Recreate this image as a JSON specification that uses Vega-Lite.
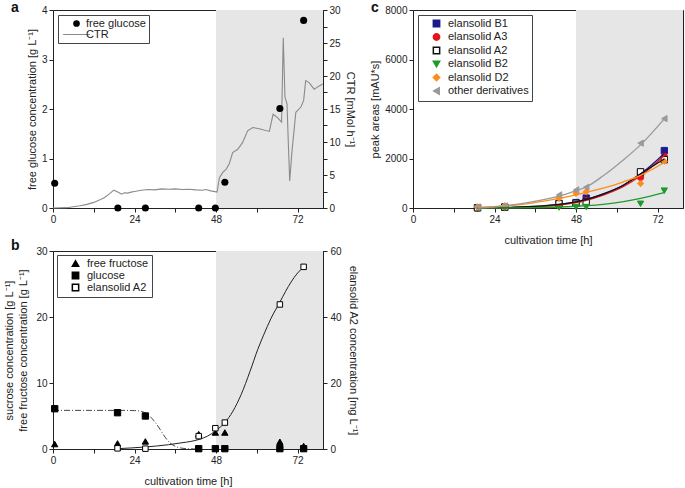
{
  "$schema": "https://vega.github.io/schema/vega-lite/v6.json",
  "padding": {"left": 3, "top": 0, "right": 0, "bottom": 0},
  "config": {
    "font": "Liberation Sans",
    "view": {"stroke": "#222", "strokeWidth": 1},
    "axis": {"grid": false, "domainColor": "#222", "domainWidth": 1, "tickColor": "#222", "tickSize": 4, "labelColor": "#222", "labelFontSize": 10, "labelPadding": 2, "titleColor": "#222", "titleFontSize": 11, "titleFontWeight": "normal", "labelFlush": false, "labelOverlap": false},
    "legend": {"orient": "top-left", "offset": 5, "strokeColor": "#444", "fillColor": "white", "padding": 3, "labelFontSize": 11, "labelColor": "#222", "rowPadding": 3, "title": null},
    "title": {"fontSize": 14, "fontWeight": "bold", "anchor": "start", "frame": "group", "color": "#111", "baseline": "alphabetic"}
  },
  "datasets": {
    "shade": [{"start": 48, "end": 79.5}],
    "ctr": [
      {"t": 0, "v": 0}, {"t": 4, "v": 0.05}, {"t": 8, "v": 0.35}, {"t": 10, "v": 0.55}, {"t": 12, "v": 0.85}, {"t": 14, "v": 1.3}, {"t": 15.2, "v": 1.6}, {"t": 16.5, "v": 2.1}, {"t": 17.9, "v": 2.7}, {"t": 18.6, "v": 2.55}, {"t": 19.5, "v": 2.3}, {"t": 20.2, "v": 2.1}, {"t": 21, "v": 2.3}, {"t": 22, "v": 2.25}, {"t": 23, "v": 2.4}, {"t": 24, "v": 2.5}, {"t": 26, "v": 2.7}, {"t": 28, "v": 2.8}, {"t": 30, "v": 2.75}, {"t": 32, "v": 2.9}, {"t": 34, "v": 2.85}, {"t": 36, "v": 2.9}, {"t": 38, "v": 2.8}, {"t": 40, "v": 2.85}, {"t": 42, "v": 2.75}, {"t": 44, "v": 2.7}, {"t": 45, "v": 2.8}, {"t": 46.5, "v": 2.6}, {"t": 48.3, "v": 2.4}, {"t": 49, "v": 4.6}, {"t": 50, "v": 5.4}, {"t": 51, "v": 5.9}, {"t": 51.9, "v": 6.7}, {"t": 52.9, "v": 8.4}, {"t": 54.4, "v": 8.9}, {"t": 55.8, "v": 9.9}, {"t": 57.3, "v": 11.7}, {"t": 58.8, "v": 12.2}, {"t": 60.7, "v": 12.0}, {"t": 63.7, "v": 11.6}, {"t": 64.8, "v": 14.2}, {"t": 66.1, "v": 13.7}, {"t": 67.3, "v": 13.0}, {"t": 67.8, "v": 25.8}, {"t": 68.3, "v": 16.8}, {"t": 68.9, "v": 15.8}, {"t": 69.3, "v": 9.7}, {"t": 69.7, "v": 4.1}, {"t": 70.3, "v": 8.2}, {"t": 71.5, "v": 14.5}, {"t": 73, "v": 15.3}, {"t": 73.8, "v": 16.3}, {"t": 74.4, "v": 19.3}, {"t": 75.4, "v": 19.0}, {"t": 76.9, "v": 18.0}, {"t": 78.4, "v": 18.5}, {"t": 79.4, "v": 18.8}
    ],
    "glc_a": [
      {"t": 0.5, "v": 0.5, "series": "free glucose"}, {"t": 19.1, "v": 0.0, "series": "free glucose"}, {"t": 27.2, "v": 0.0, "series": "free glucose"}, {"t": 42.9, "v": 0.0, "series": "free glucose"}, {"t": 47.8, "v": 0.0, "series": "free glucose"}, {"t": 50.6, "v": 0.52, "series": "free glucose"}, {"t": 66.8, "v": 2.01, "series": "free glucose"}, {"t": 73.8, "v": 3.79, "series": "free glucose"}
    ],
    "b_left": [
      {"t": 0.5, "v": 0.75, "series": "free fructose"}, {"t": 19, "v": 0.85, "series": "free fructose"}, {"t": 27.2, "v": 1.15, "series": "free fructose"}, {"t": 42.9, "v": 2.25, "series": "free fructose"}, {"t": 47.8, "v": 2.5, "series": "free fructose"}, {"t": 50.6, "v": 2.5, "series": "free fructose"}, {"t": 66.8, "v": 1.1, "series": "free fructose"}, {"t": 73.8, "v": 0.45, "series": "free fructose"},
      {"t": 0.5, "v": 6.1, "series": "glucose"}, {"t": 19, "v": 5.5, "series": "glucose"}, {"t": 27.2, "v": 5.0, "series": "glucose"}, {"t": 42.9, "v": 0.05, "series": "glucose"}, {"t": 47.8, "v": 0.05, "series": "glucose"}, {"t": 50.6, "v": 0.05, "series": "glucose"}, {"t": 66.8, "v": 0.05, "series": "glucose"}, {"t": 73.8, "v": 0.05, "series": "glucose"}
    ],
    "b_a2": [
      {"t": 19, "v": 0.2, "series": "elansolid A2"}, {"t": 27.2, "v": 0.1, "series": "elansolid A2"}, {"t": 42.9, "v": 3.9, "series": "elansolid A2"}, {"t": 47.8, "v": 6.3, "series": "elansolid A2"}, {"t": 50.6, "v": 8.0, "series": "elansolid A2"}, {"t": 66.8, "v": 43.8, "series": "elansolid A2"}, {"t": 73.8, "v": 55.2, "series": "elansolid A2"}
    ],
    "b_glcfit": [
      {"t": 0, "v": 5.85}, {"t": 12, "v": 5.85}, {"t": 20, "v": 5.85}, {"t": 24, "v": 5.82}, {"t": 26, "v": 5.7}, {"t": 28, "v": 5.2}, {"t": 30, "v": 4.1}, {"t": 31.5, "v": 3.0}, {"t": 33, "v": 1.8}, {"t": 34.5, "v": 0.9}, {"t": 36, "v": 0.4}, {"t": 38, "v": 0.12}, {"t": 40, "v": 0.03}, {"t": 43, "v": 0}
    ],
    "b_a2fit": [
      {"t": 19, "v": 0.1}, {"t": 27, "v": 0.6}, {"t": 34, "v": 1.3}, {"t": 38, "v": 1.9}, {"t": 40.6, "v": 2.3}, {"t": 43, "v": 2.9}, {"t": 45.5, "v": 3.9}, {"t": 48, "v": 5.6}, {"t": 50.5, "v": 7.9}, {"t": 53, "v": 11.5}, {"t": 55.4, "v": 16.5}, {"t": 58, "v": 23.5}, {"t": 60.3, "v": 30.2}, {"t": 62, "v": 34.5}, {"t": 64.2, "v": 39.6}, {"t": 66.8, "v": 44.5}, {"t": 68.5, "v": 47.8}, {"t": 70.1, "v": 50.6}, {"t": 72, "v": 53.3}, {"t": 74, "v": 55.3}
    ],
    "c_pts": [
      {"t": 19, "v": 10, "series": "elansolid B1"}, {"t": 27, "v": 30, "series": "elansolid B1"}, {"t": 43, "v": 180, "series": "elansolid B1"}, {"t": 48, "v": 220, "series": "elansolid B1"}, {"t": 51, "v": 400, "series": "elansolid B1"}, {"t": 67, "v": 1450, "series": "elansolid B1"}, {"t": 74, "v": 2320, "series": "elansolid B1"},
      {"t": 19, "v": 0, "series": "elansolid A3"}, {"t": 27, "v": 20, "series": "elansolid A3"}, {"t": 43, "v": 100, "series": "elansolid A3"}, {"t": 48, "v": 180, "series": "elansolid A3"}, {"t": 51, "v": 300, "series": "elansolid A3"}, {"t": 67, "v": 1240, "series": "elansolid A3"}, {"t": 74, "v": 2080, "series": "elansolid A3"},
      {"t": 19, "v": 10, "series": "elansolid A2"}, {"t": 27, "v": 40, "series": "elansolid A2"}, {"t": 43, "v": 170, "series": "elansolid A2"}, {"t": 48, "v": 190, "series": "elansolid A2"}, {"t": 51, "v": 250, "series": "elansolid A2"}, {"t": 67, "v": 1460, "series": "elansolid A2"}, {"t": 74, "v": 1950, "series": "elansolid A2"},
      {"t": 19, "v": 0, "series": "elansolid B2"}, {"t": 27, "v": 0, "series": "elansolid B2"}, {"t": 43, "v": 20, "series": "elansolid B2"}, {"t": 48, "v": 40, "series": "elansolid B2"}, {"t": 51, "v": 40, "series": "elansolid B2"}, {"t": 67, "v": 170, "series": "elansolid B2"}, {"t": 74, "v": 700, "series": "elansolid B2"},
      {"t": 19, "v": 40, "series": "elansolid D2"}, {"t": 27, "v": 90, "series": "elansolid D2"}, {"t": 43, "v": 390, "series": "elansolid D2"}, {"t": 48, "v": 590, "series": "elansolid D2"}, {"t": 51, "v": 660, "series": "elansolid D2"}, {"t": 67, "v": 990, "series": "elansolid D2"}, {"t": 74, "v": 1890, "series": "elansolid D2"},
      {"t": 19, "v": 40, "series": "other derivatives"}, {"t": 27, "v": 80, "series": "other derivatives"}, {"t": 43, "v": 530, "series": "other derivatives"}, {"t": 48, "v": 730, "series": "other derivatives"}, {"t": 51, "v": 840, "series": "other derivatives"}, {"t": 67, "v": 2620, "series": "other derivatives"}, {"t": 74, "v": 3610, "series": "other derivatives"}
    ],
    "c_fit": [
      {"t": 19, "v": 0, "series": "elansolid B1"}, {"t": 27, "v": 15, "series": "elansolid B1"}, {"t": 35, "v": 55, "series": "elansolid B1"}, {"t": 43, "v": 145, "series": "elansolid B1"}, {"t": 48, "v": 250, "series": "elansolid B1"}, {"t": 51, "v": 345, "series": "elansolid B1"}, {"t": 56, "v": 570, "series": "elansolid B1"}, {"t": 62, "v": 930, "series": "elansolid B1"}, {"t": 67, "v": 1370, "series": "elansolid B1"}, {"t": 74, "v": 2200, "series": "elansolid B1"},
      {"t": 19, "v": 0, "series": "elansolid A3"}, {"t": 27, "v": 10, "series": "elansolid A3"}, {"t": 35, "v": 45, "series": "elansolid A3"}, {"t": 43, "v": 120, "series": "elansolid A3"}, {"t": 48, "v": 220, "series": "elansolid A3"}, {"t": 51, "v": 310, "series": "elansolid A3"}, {"t": 56, "v": 520, "series": "elansolid A3"}, {"t": 62, "v": 870, "series": "elansolid A3"}, {"t": 67, "v": 1300, "series": "elansolid A3"}, {"t": 74, "v": 2120, "series": "elansolid A3"},
      {"t": 19, "v": 0, "series": "elansolid A2"}, {"t": 27, "v": 15, "series": "elansolid A2"}, {"t": 35, "v": 60, "series": "elansolid A2"}, {"t": 43, "v": 150, "series": "elansolid A2"}, {"t": 48, "v": 250, "series": "elansolid A2"}, {"t": 51, "v": 340, "series": "elansolid A2"}, {"t": 56, "v": 560, "series": "elansolid A2"}, {"t": 62, "v": 920, "series": "elansolid A2"}, {"t": 67, "v": 1380, "series": "elansolid A2"}, {"t": 74, "v": 1980, "series": "elansolid A2"},
      {"t": 19, "v": 0, "series": "elansolid B2"}, {"t": 27, "v": 5, "series": "elansolid B2"}, {"t": 35, "v": 15, "series": "elansolid B2"}, {"t": 43, "v": 40, "series": "elansolid B2"}, {"t": 48, "v": 70, "series": "elansolid B2"}, {"t": 51, "v": 95, "series": "elansolid B2"}, {"t": 56, "v": 150, "series": "elansolid B2"}, {"t": 62, "v": 260, "series": "elansolid B2"}, {"t": 67, "v": 390, "series": "elansolid B2"}, {"t": 74, "v": 620, "series": "elansolid B2"},
      {"t": 19, "v": 20, "series": "elansolid D2"}, {"t": 27, "v": 80, "series": "elansolid D2"}, {"t": 35, "v": 200, "series": "elansolid D2"}, {"t": 43, "v": 390, "series": "elansolid D2"}, {"t": 48, "v": 530, "series": "elansolid D2"}, {"t": 51, "v": 630, "series": "elansolid D2"}, {"t": 56, "v": 800, "series": "elansolid D2"}, {"t": 62, "v": 1060, "series": "elansolid D2"}, {"t": 67, "v": 1320, "series": "elansolid D2"}, {"t": 74, "v": 1840, "series": "elansolid D2"},
      {"t": 19, "v": 0, "series": "other derivatives"}, {"t": 27, "v": 90, "series": "other derivatives"}, {"t": 35, "v": 250, "series": "other derivatives"}, {"t": 43, "v": 480, "series": "other derivatives"}, {"t": 48, "v": 700, "series": "other derivatives"}, {"t": 51, "v": 850, "series": "other derivatives"}, {"t": 56, "v": 1300, "series": "other derivatives"}, {"t": 62, "v": 1950, "series": "other derivatives"}, {"t": 67, "v": 2550, "series": "other derivatives"}, {"t": 74, "v": 3600, "series": "other derivatives"}
    ]
  },
  "concat": [
    {
      "width": 270, "height": 198,
      "title": {"text": "a", "dx": -42, "offset": -10},
      "layer": [
        {"data": {"name": "shade"}, "mark": {"type": "rect", "fill": "#e6e6e6"},
         "encoding": {"x": {"field": "start", "type": "quantitative", "scale": {"domain": [0, 79.5], "nice": false, "zero": false}, "axis": {"values": [0, 12, 24, 36, 48, 60, 72], "labelExpr": "datum.value % 24 === 0 ? datum.label : ''", "title": null}}, "x2": {"field": "end"}}},
        {"data": {"name": "ctr"}, "mark": {"type": "line", "color": "#8a8a8a", "strokeWidth": 1.1},
         "encoding": {"x": {"field": "t", "type": "quantitative"}, "y": {"field": "v", "type": "quantitative", "scale": {"domain": [0, 30], "nice": false}, "axis": {"orient": "right", "values": [0, 2.5, 5, 7.5, 10, 12.5, 15, 17.5, 20, 22.5, 25, 27.5, 30], "format": "d", "labelExpr": "datum.value % 5 === 0 ? datum.label : ''", "title": "CTR [mMol h⁻¹]", "titlePadding": 4}}}},
        {"data": {"name": "glc_a"}, "mark": {"type": "point", "filled": true, "opacity": 1, "size": 50},
         "encoding": {"x": {"field": "t", "type": "quantitative"},
           "y": {"field": "v", "type": "quantitative", "scale": {"domain": [0, 4], "nice": false}, "axis": {"orient": "left", "values": [0, 0.5, 1, 1.5, 2, 2.5, 3, 3.5, 4], "format": "d", "labelExpr": "datum.value % 1 === 0 ? datum.label : ''", "title": "free glucose concentration [g L⁻¹]", "titlePadding": 4}},
           "color": {"field": "series", "type": "nominal", "scale": {"domain": ["free glucose", "CTR"], "range": ["#000000", "#8a8a8a"]}, "legend": {"symbolSize": 45, "symbolOffset": 10, "labelOffset": 4, "rowPadding": -2}},
           "shape": {"field": "series", "type": "nominal", "scale": {"domain": ["free glucose", "CTR"], "range": ["circle", "M-4,-0.15L4,-0.15L4,0.15L-4,0.15Z"]}, "legend": {"symbolSize": 45, "symbolOffset": 10, "labelOffset": 4, "rowPadding": -2}}}}
      ],
      "resolve": {"scale": {"y": "independent"}}
    },
    {
      "width": 270, "height": 198,
      "title": {"text": "c", "dx": -42, "offset": -10},
      "layer": [
        {"data": {"name": "shade"}, "mark": {"type": "rect", "fill": "#e6e6e6"},
         "encoding": {"x": {"field": "start", "type": "quantitative", "scale": {"domain": [0, 79.5], "nice": false, "zero": false}, "axis": {"values": [0, 12, 24, 36, 48, 60, 72], "labelExpr": "datum.value % 24 === 0 ? datum.label : ''", "title": "cultivation time [h]", "titlePadding": 10}}, "x2": {"field": "end"}}},
        {"data": {"name": "c_pts"}, "mark": {"type": "point", "filled": false, "opacity": 1, "size": 40, "strokeWidth": 1},
         "encoding": {"x": {"field": "t", "type": "quantitative"},
           "y": {"field": "v", "type": "quantitative", "scale": {"domain": [0, 8000], "nice": false}, "axis": {"values": [0, 500, 1000, 1500, 2000, 2500, 3000, 3500, 4000, 4500, 5000, 5500, 6000, 6500, 7000, 7500, 8000], "labelExpr": "datum.value % 1000 === 0 ? datum.label : ''", "format": "d", "title": "peak areas [mAU*s]", "titlePadding": 4}},
           "color": {"field": "series", "type": "nominal", "scale": {"domain": ["elansolid B1", "elansolid A3", "elansolid A2", "elansolid B2", "elansolid D2", "other derivatives"], "range": ["#1c1c8a", "#e5141c", "#111111", "#1f9a2a", "#ff8c1a", "#9a9a9a"]}, "legend": {"symbolSize": 40, "symbolOffset": 10, "labelOffset": 6, "rowPadding": 0.5}},
           "fill": {"field": "series", "type": "nominal", "scale": {"domain": ["elansolid B1", "elansolid A3", "elansolid A2", "elansolid B2", "elansolid D2", "other derivatives"], "range": ["#1c1c8a", "#e5141c", "#ffffff", "#1f9a2a", "#ff8c1a", "#9a9a9a"]}, "legend": {"symbolSize": 40, "symbolOffset": 10, "labelOffset": 6, "rowPadding": 0.5}},
           "shape": {"field": "series", "type": "nominal", "scale": {"domain": ["elansolid B1", "elansolid A3", "elansolid A2", "elansolid B2", "elansolid D2", "other derivatives"], "range": ["square", "circle", "square", "triangle-down", "diamond", "triangle-left"]}, "legend": {"symbolSize": 40, "symbolOffset": 10, "labelOffset": 6, "rowPadding": 0.5}}}},
        {"data": {"name": "c_fit"}, "mark": {"type": "line", "strokeWidth": 1.3, "interpolate": "monotone"},
         "encoding": {"x": {"field": "t", "type": "quantitative"}, "y": {"field": "v", "type": "quantitative"},
           "color": {"field": "series", "type": "nominal", "legend": {"symbolSize": 40, "symbolOffset": 10, "labelOffset": 6, "rowPadding": 0.5}}}}
      ]
    },
    {
      "width": 270, "height": 198,
      "title": {"text": "b", "dx": -42, "offset": -7},
      "layer": [
        {"data": {"name": "shade"}, "mark": {"type": "rect", "fill": "#e6e6e6"},
         "encoding": {"x": {"field": "start", "type": "quantitative", "scale": {"domain": [0, 79.5], "nice": false, "zero": false}, "axis": {"values": [0, 12, 24, 36, 48, 60, 72], "labelExpr": "datum.value % 24 === 0 ? datum.label : ''", "title": "cultivation time [h]", "titlePadding": 10}}, "x2": {"field": "end"}}},
        {"layer": [
          {"data": {"name": "b_glcfit"}, "mark": {"type": "line", "color": "#333", "strokeWidth": 0.9, "strokeDash": [6, 2, 1, 2], "interpolate": "monotone"},
           "encoding": {"x": {"field": "t", "type": "quantitative"}, "y": {"field": "v", "type": "quantitative"}}},
          {"data": {"name": "b_left"}, "mark": {"type": "point", "filled": false, "opacity": 1, "size": 40, "strokeWidth": 1},
           "encoding": {"x": {"field": "t", "type": "quantitative"},
             "y": {"field": "v", "type": "quantitative", "scale": {"domain": [0, 30], "nice": false}, "axis": {"orient": "left", "values": [0, 2.5, 5, 7.5, 10, 12.5, 15, 17.5, 20, 22.5, 25, 27.5, 30], "format": "d", "labelExpr": "datum.value % 5 === 0 ? datum.label : ''", "title": ["sucrose concentration [g L⁻¹]", "free fructose concentration [g L⁻¹]"], "titlePadding": 7, "titleLineHeight": 14}},
             "color": {"field": "series", "type": "nominal", "scale": {"domain": ["free fructose", "glucose", "elansolid A2"], "range": ["#000000", "#000000", "#000000"]}, "legend": {"symbolSize": 40, "symbolOffset": 10, "labelOffset": 6, "rowPadding": -1, "offset": 4}},
             "fill": {"field": "series", "type": "nominal", "scale": {"domain": ["free fructose", "glucose", "elansolid A2"], "range": ["#000000", "#000000", "#ffffff"]}, "legend": {"symbolSize": 40, "symbolOffset": 10, "labelOffset": 6, "rowPadding": -1, "offset": 4}},
             "shape": {"field": "series", "type": "nominal", "scale": {"domain": ["free fructose", "glucose", "elansolid A2"], "range": ["triangle-up", "square", "square"]}, "legend": {"symbolSize": 40, "symbolOffset": 10, "labelOffset": 6, "rowPadding": -1, "offset": 4}}}}
        ]},
        {"layer": [
          {"data": {"name": "b_a2fit"}, "mark": {"type": "line", "color": "#222", "strokeWidth": 1, "interpolate": "monotone"},
           "encoding": {"x": {"field": "t", "type": "quantitative"}, "y": {"field": "v", "type": "quantitative"}}},
          {"data": {"name": "b_a2"}, "mark": {"type": "point", "filled": false, "opacity": 1, "size": 30, "strokeWidth": 1},
           "encoding": {"x": {"field": "t", "type": "quantitative"},
             "y": {"field": "v", "type": "quantitative", "scale": {"domain": [0, 60], "nice": false}, "axis": {"orient": "right", "values": [0, 5, 10, 15, 20, 25, 30, 35, 40, 45, 50, 55, 60], "format": "d", "labelExpr": "datum.value % 10 === 0 ? datum.label : ''", "title": "elansolid A2 concentration [mg L⁻¹]", "titlePadding": 6, "labelPadding": 3}},
             "color": {"field": "series", "type": "nominal", "legend": null},
             "fill": {"field": "series", "type": "nominal", "legend": null},
             "shape": {"field": "series", "type": "nominal", "legend": null}}}
        ]}
      ],
      "resolve": {"scale": {"y": "independent"}}
    }
  ],
  "columns": 2,
  "spacing": {"row": 43, "column": 90},
  "bounds": "flush",
  "resolve": {
    "scale": {"x": "independent", "y": "independent", "color": "independent", "fill": "independent", "stroke": "independent", "shape": "independent"},
    "legend": {"color": "independent", "fill": "independent", "stroke": "independent", "shape": "independent"}
  }
}
